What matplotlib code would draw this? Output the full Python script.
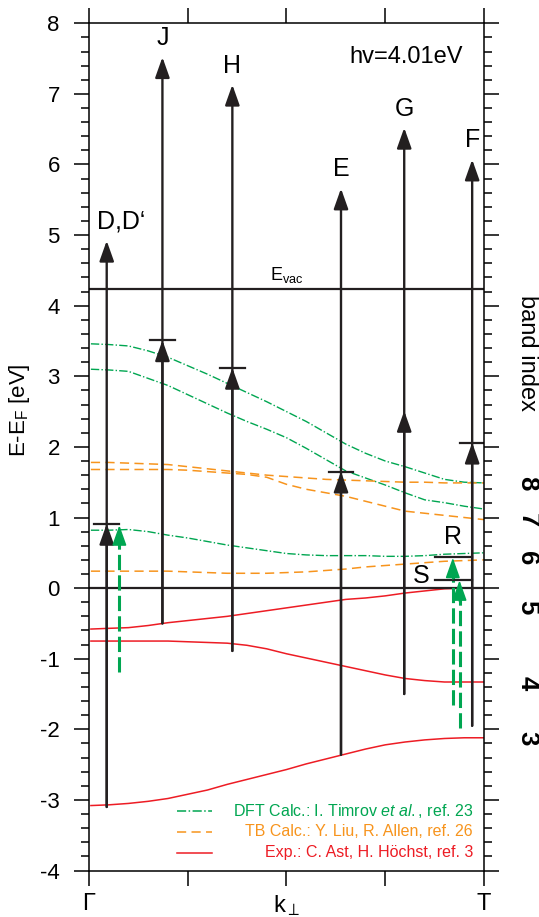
import numpy as np
import matplotlib
matplotlib.use("Agg")
import matplotlib.pyplot as plt

plt.rcParams.update({
    "font.family": ["Liberation Sans", "DejaVu Sans"],
    "mathtext.fontset": "custom",
    "mathtext.rm": "Liberation Sans",
    "mathtext.it": "Liberation Sans:italic",
    "axes.linewidth": 1.1,
    "axes.unicode_minus": False,
})

GREEN = "#00a651"
ORANGE = "#f7941d"
RED = "#ed1c24"
INK = "#231f20"

HV = 4.01          # photon energy, eV
E_VAC = 4.23       # vacuum level, eV

K = [0.005, 0.05, 0.10, 0.15, 0.20, 0.25, 0.30, 0.35, 0.40, 0.45, 0.50,
     0.55, 0.60, 0.65, 0.70, 0.75, 0.80, 0.85, 0.90, 0.95, 1.00]

# DFT calc. (Timrov et al.)
DFT_BANDS = [
    [3.46, 3.45, 3.43, 3.36, 3.27, 3.15, 3.03, 2.90, 2.77, 2.64, 2.50,
     2.36, 2.20, 2.04, 1.91, 1.80, 1.72, 1.63, 1.54, 1.50, 1.49],
    [3.10, 3.09, 3.07, 2.97, 2.87, 2.74, 2.61, 2.48, 2.36, 2.25, 2.13,
     1.98, 1.82, 1.66, 1.56, 1.46, 1.35, 1.25, 1.21, 1.16, 1.12],
    [0.82, 0.82, 0.83, 0.80, 0.75, 0.71, 0.66, 0.61, 0.57, 0.53, 0.49,
     0.47, 0.46, 0.46, 0.46, 0.45, 0.45, 0.46, 0.48, 0.49, 0.50],
]
# TB calc. (Liu, Allen)
TB_BANDS = [
    [1.78, 1.78, 1.77, 1.76, 1.75, 1.72, 1.69, 1.66, 1.63, 1.60, 1.58,
     1.56, 1.54, 1.53, 1.52, 1.51, 1.50, 1.50, 1.49, 1.49, 1.49],
    [1.68, 1.68, 1.68, 1.68, 1.68, 1.67, 1.65, 1.63, 1.61, 1.57, 1.47,
     1.40, 1.35, 1.30, 1.23, 1.16, 1.09, 1.06, 1.03, 1.00, 0.97],
    [0.24, 0.24, 0.24, 0.24, 0.24, 0.23, 0.22, 0.21, 0.21, 0.21, 0.22,
     0.23, 0.25, 0.27, 0.30, 0.32, 0.34, 0.36, 0.38, 0.39, 0.40],
]
# experiment (Ast, Hoechst)
EXP_BANDS = [
    [-0.58, -0.57, -0.56, -0.53, -0.49, -0.46, -0.43, -0.40, -0.36, -0.32, -0.28,
     -0.24, -0.20, -0.16, -0.14, -0.11, -0.07, -0.04, -0.01, 0.00, 0.00],
    [-0.75, -0.75, -0.75, -0.75, -0.75, -0.76, -0.77, -0.78, -0.81, -0.86, -0.93,
     -0.99, -1.05, -1.11, -1.17, -1.23, -1.28, -1.31, -1.33, -1.33, -1.33],
    [-3.08, -3.07, -3.05, -3.02, -2.98, -2.92, -2.86, -2.78, -2.71, -2.64, -2.57,
     -2.49, -2.42, -2.35, -2.28, -2.22, -2.18, -2.15, -2.13, -2.12, -2.12],
]

# two-photon transitions: label, k position, initial energy, intermediate bar shown
TR_LABELS = ["D,D\u2018", "J", "H", "E", "G", "F"]
TR_K = [0.045, 0.186, 0.363, 0.638, 0.798, 0.970]
TR_EI = [-3.10, -0.50, -0.89, -2.36, -1.50, -1.95]
TR_BAR = [True, True, True, True, False, True]
TR_LABEL_DX = [0.036, 0, 0, 0, 0, 0]

# one-photon (green) transitions
GR_K = [0.077, 0.921, 0.938]
GR_EI = [-1.19, -1.65, -1.98]
GR_EF = [0.89, 0.43, 0.11]

# intermediate states R and S
LEVEL_NAMES = ["R", "S"]
LEVEL_E = [0.44, 0.11]
LEVEL_K0, LEVEL_K1 = 0.877, 0.970

BAND_IDX = ["8", "7", "6", "5", "4", "3"]
BAND_E = [1.48, 0.96, 0.42, -0.27, -1.34, -2.12]

HEAD = "-|>,head_length=0.62,head_width=0.22"


def arrow(ax, x, y0, y1, color, lw):
    ax.annotate("", xy=(x, y1), xytext=(x, y0),
                arrowprops=dict(arrowstyle=HEAD, mutation_scale=20, color=color,
                                lw=lw, shrinkA=0, shrinkB=0, joinstyle="round"))


def main():
    fig = plt.figure(figsize=(5.39, 9.17), dpi=100)
    ax = fig.add_axes([0.165, 0.0507, 0.733, 0.9239])

    dft_ls = (0, (6, 1.6, 1, 1.6))
    tb_ls = (0, (6, 3.5))
    for e in DFT_BANDS:
        ax.plot(K, e, color=GREEN, lw=1.0, ls=dft_ls)
    for e in TB_BANDS:
        ax.plot(K, e, color=ORANGE, lw=1.1, ls=tb_ls)
    for e in EXP_BANDS:
        ax.plot(K, e, color=RED, lw=1.1)

    ax.axhline(0, color=INK, lw=1.6)
    ax.axhline(E_VAC, color=INK, lw=1.6)
    ax.text(0.5, E_VAC + 0.07, r"E$_\mathregular{vac}$", ha="center", va="bottom", fontsize=13)

    # two-photon arrows with intermediate arrowhead
    for lab, k, ei, bar, dx in zip(TR_LABELS, TR_K, TR_EI, TR_BAR, TR_LABEL_DX):
        arrow(ax, k, ei, ei + 2 * HV, INK, 1.7)
        arrow(ax, k, ei, ei + HV, INK, 1.7)
        if bar:
            ax.plot([k - 0.031, k + 0.031], [ei + HV, ei + HV], color=INK, lw=1.6)
        ax.text(k + dx, ei + 2 * HV + 0.27, lab, ha="center", va="center", fontsize=18)

    # one-photon (green) arrows
    for k, ei, ef in zip(GR_K, GR_EI, GR_EF):
        ax.plot([k, k], [ei, ef - 0.2], color=GREEN, lw=2.2, ls=(0, (5, 1.7)))
        arrow(ax, k, ef - 0.3, ef, GREEN, 1.2)

    for name, e in zip(LEVEL_NAMES, LEVEL_E):
        ax.plot([LEVEL_K0, LEVEL_K1], [e, e], color=INK, lw=1.6)
    ax.text(GR_K[1], LEVEL_E[0] + 0.28, LEVEL_NAMES[0], ha="center", va="center", fontsize=18)
    ax.text(LEVEL_K0 - 0.015, LEVEL_E[1] + 0.06, LEVEL_NAMES[1], ha="right", va="center", fontsize=18)

    ax.text(0.947, 7.52, "hv=4.01eV", ha="right", va="center", fontsize=17)

    # right-hand band index column
    ty = ax.get_yaxis_transform()
    ax.text(1.11, 3.33, "band index", transform=ty, rotation=-90,
            ha="center", va="center", fontsize=17)
    for b, e in zip(BAND_IDX, BAND_E):
        ax.text(1.11, e, b, transform=ty, rotation=-90, ha="center", va="center",
                fontsize=18.5, fontweight="bold")

    # legend, drawn by hand so the labels are right-aligned
    leg = [("DFT Calc.: I. Timrov $\\mathit{et\\ al.}$, ref. 23", GREEN, dft_ls),
           ("TB Calc.: Y. Liu, R. Allen, ref. 26", ORANGE, tb_ls),
           ("Exp.: C. Ast, H. H\u00f6chst, ref. 3", RED, "-")]
    for i, (txt, c, ls) in enumerate(leg):
        yy = 0.0706 - i * 0.0248
        ax.plot([0.223, 0.311], [yy, yy], transform=ax.transAxes, color=c, lw=1.1, ls=ls)
        ax.text(0.972, yy, txt, transform=ax.transAxes, color=c, ha="right",
                va="center", fontsize=11.5)

    ax.set_xlim(0, 1)
    ax.set_ylim(-4, 8)
    ax.set_xticks([0, 0.25, 0.5, 0.75, 1.0])
    ax.set_xticklabels(["\u0393", "", r"k$_\perp$", "", "T"])
    ax.set_yticks(np.arange(-4, 9, 1))
    ax.set_yticks(np.arange(-4, 8.01, 0.2), minor=True)
    ax.tick_params(which="both", direction="out", top=True, right=True, width=1.1)
    ax.tick_params(which="major", length=11)
    ax.tick_params(which="minor", length=5.5)
    ax.tick_params(axis="y", labelsize=16, pad=10)
    ax.tick_params(axis="x", labelsize=17, pad=5)
    ax.set_ylabel(r"E-E$_\mathregular{F}$ [eV]", fontsize=16)
    ax.yaxis.set_label_coords(-0.145, 0.543)

    fig.savefig("out.png", dpi=100)


if __name__ == "__main__":
    main()
